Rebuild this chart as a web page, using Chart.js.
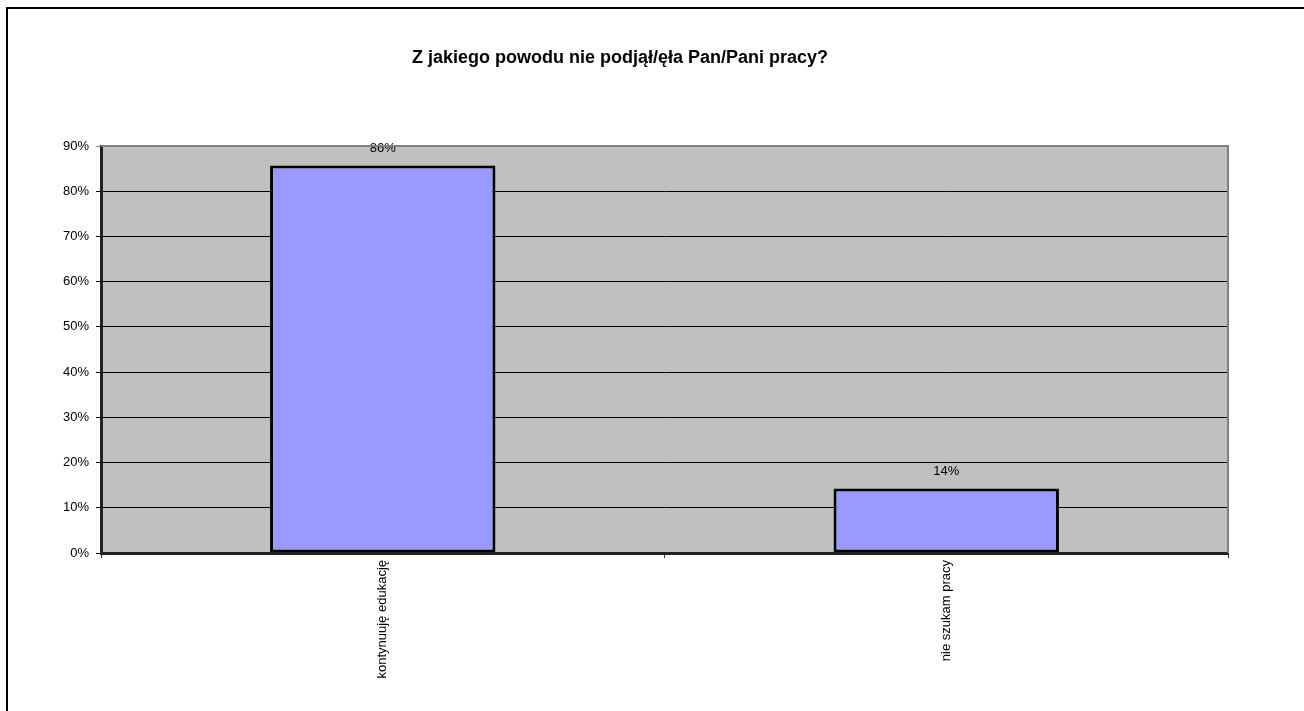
<!DOCTYPE html>
<html>
<head>
<meta charset="utf-8">
<script src="https://cdn.jsdelivr.net/npm/chart.js@4"></script>
<style>
  html, body { margin: 0; padding: 0; background: #fff; overflow: hidden; }
  #frame { position: absolute; left: 6px; top: 7px; width: 1400px; height: 800px;
           border-left: 2px solid #000; border-top: 2px solid #000; }
  #wrap { position: absolute; left: 0; top: 0; width: 1304px; height: 711px; }
</style>
</head>
<body>
<div id="frame"></div>
<div id="wrap"><canvas id="chart"></canvas></div>
<script>
// chart data
const title = 'Z jakiego powodu nie podjął/ęła Pan/Pani pracy?';
const categories = ['kontynuuję edukację', 'nie szukam pracy'];
const shares = [85.71, 14.29];
const yTicks = [0, 10, 20, 30, 40, 50, 60, 70, 80, 90];

const FONT = 'Arial, "Liberation Sans", sans-serif';

// gray plot background + gray top/right border + title
const plotArea = {
    id: 'plotArea',
    beforeDraw(chart) {
        const { ctx, chartArea: a } = chart;
        ctx.save();
        ctx.fillStyle = '#c0c0c0';
        ctx.fillRect(a.left, a.top, a.right - a.left, a.bottom - a.top);
        ctx.restore();
    },
    afterDraw(chart) {
        const { ctx, chartArea: a } = chart;
        ctx.save();
        ctx.strokeStyle = '#808080';
        ctx.lineWidth = 2;
        ctx.beginPath();
        ctx.moveTo(a.left, a.top);
        ctx.lineTo(a.right, a.top);
        ctx.lineTo(a.right, a.bottom);
        ctx.stroke();
        ctx.fillStyle = '#000';
        ctx.font = 'bold 18px ' + FONT;
        ctx.textAlign = 'center';
        ctx.textBaseline = 'middle';
        ctx.fillText(title, 620, 58);
        ctx.restore();
    }
};

// value labels above bars
const barLabels = {
    id: 'barLabels',
    afterDatasetsDraw(chart) {
        const { ctx } = chart;
        const meta = chart.getDatasetMeta(0);
        ctx.save();
        ctx.fillStyle = '#000';
        ctx.font = '13px ' + FONT;
        ctx.textAlign = 'center';
        ctx.textBaseline = 'middle';
        meta.data.forEach((bar, i) => {
            ctx.fillText(Math.round(shares[i]) + '%', bar.x, bar.y - 17);
        });
        ctx.restore();
    }
};

new Chart(document.getElementById('chart'), {
    type: 'bar',
    data: {
        labels: categories,
        datasets: [{
            data: shares,
            backgroundColor: '#9999ff',
            borderColor: '#000',
            borderWidth: 3,
            borderSkipped: false,
            barPercentage: 0.4,
            categoryPercentage: 1.0
        }]
    },
    options: {
        responsive: true,
        maintainAspectRatio: false,
        animation: false,
        layout: { padding: { left: 0, right: 76, top: 146, bottom: 0 } },
        plugins: {
            legend: { display: false },
            title: { display: false },
            tooltip: { enabled: false }
        },
        scales: {
            x: {
                offset: true,
                grid: { offset: true, drawOnChartArea: false, tickLength: 5, color: '#333' },
                border: { color: '#222', width: 3, z: 1 },
                ticks: {
                    minRotation: 90, maxRotation: 90, padding: 2,
                    color: '#000', font: { family: FONT, size: 13 }
                },
                afterFit(scale) { scale.height = 158; }
            },
            y: {
                min: 0,
                max: 90,
                afterBuildTicks(scale) { scale.ticks = yTicks.map(v => ({ value: v })); },
                grid: {
                    tickLength: 5,
                    color: ctx => ctx.tick && ctx.tick.value === 90 ? '#808080' : '#000',
                    lineWidth: 1
                },
                border: { color: '#222', width: 3 },
                ticks: {
                    padding: 7,
                    color: '#000',
                    font: { family: FONT, size: 13 },
                    callback: v => v + '%'
                },
                afterFit(scale) { scale.width = 101; }
            }
        }
    },
    plugins: [plotArea, barLabels]
});
</script>
</body>
</html>
